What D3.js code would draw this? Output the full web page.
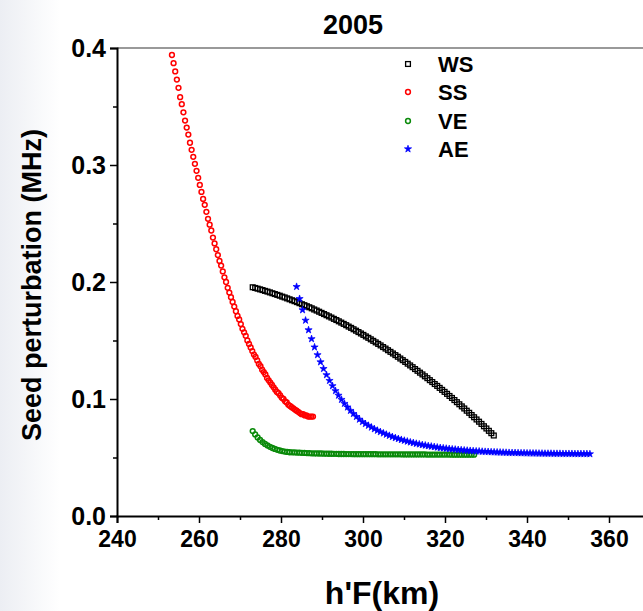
<!DOCTYPE html>
<html><head><meta charset="utf-8">
<script src="https://cdn.jsdelivr.net/npm/d3@7"></script>
<style>
html,body{margin:0;padding:0;background:#fff;}
svg{display:block;}
text{font-family:"Liberation Sans",Arial,Helvetica,sans-serif;font-weight:bold;fill:#000;}
</style></head>
<body>
<svg id="chart" width="643" height="611"></svg>
<script>
const title = "2005";
const xLabel = "h'F(km)";
const yLabel = "Seed perturbation (MHz)";
const seriesNames = ["WS", "SS", "VE", "AE"];
const seriesColors = ["#000000", "#ff0000", "#0a8a0a", "#0000ff"];
const xTicks = [240, 260, 280, 300, 320, 340, 360];
const yTicks = [0.0, 0.1, 0.2, 0.3, 0.4];

const wsX = [273.1,273.7,274.3,274.9,275.5,276.1,276.7,277.3,277.9,278.5,
279.1,279.7,280.3,280.9,281.5,282.1,282.7,283.3,283.9,284.5,
285.1,285.7,286.3,286.9,287.5,288.1,288.7,289.3,289.9,290.5,
291.1,291.7,292.3,292.9,293.5,294.1,294.7,295.3,295.9,296.5,
297.1,297.7,298.3,298.9,299.5,300.1,300.7,301.3,301.9,302.5,
303.1,303.7,304.3,304.9,305.5,306.1,306.7,307.3,307.9,308.5,
309.1,309.7,310.3,310.9,311.5,312.1,312.7,313.3,313.9,314.5,
315.1,315.7,316.3,316.9,317.5,318.1,318.7,319.3,319.9,320.5,
321.1,321.7,322.3,322.9,323.5,324.1,324.7,325.3,325.9,326.5,
327.1,327.7,328.3,328.9,329.5,330.1,330.7,331.3,331.9];
const wsY = [0.1955,0.1949,0.1943,0.1937,0.1931,0.1924,0.1918,0.1911,0.1904,0.1897,
0.1890,0.1883,0.1875,0.1868,0.1860,0.1852,0.1844,0.1836,0.1828,0.1819,
0.1810,0.1802,0.1793,0.1784,0.1775,0.1765,0.1756,0.1746,0.1736,0.1726,
0.1716,0.1706,0.1696,0.1685,0.1675,0.1664,0.1653,0.1642,0.1631,0.1619,
0.1608,0.1596,0.1584,0.1572,0.1560,0.1548,0.1535,0.1523,0.1510,0.1497,
0.1484,0.1471,0.1458,0.1444,0.1431,0.1417,0.1403,0.1389,0.1375,0.1361,
0.1346,0.1332,0.1317,0.1302,0.1287,0.1272,0.1256,0.1241,0.1225,0.1210,
0.1194,0.1178,0.1161,0.1145,0.1128,0.1112,0.1095,0.1078,0.1061,0.1044,
0.1026,0.1009,0.0991,0.0973,0.0955,0.0937,0.0919,0.0900,0.0882,0.0863,
0.0844,0.0825,0.0806,0.0787,0.0767,0.0748,0.0728,0.0708,0.0688];

const ssX = [253.4,253.8,254.2,254.6,255.0,255.4,255.8,256.2,256.6,257.0,
257.4,257.8,258.2,258.6,259.0,259.4,259.8,260.2,260.6,261.0,
261.4,261.8,262.2,262.6,263.0,263.4,263.8,264.2,264.6,265.0,
265.4,265.8,266.2,266.6,267.0,267.4,267.8,268.2,268.6,269.0,
269.4,269.8,270.2,270.6,271.0,271.4,271.8,272.2,272.6,273.0,
273.4,273.8,274.2,274.6,275.0,275.4,275.8,276.2,276.6,277.0,
277.4,277.8,278.2,278.6,279.0,279.4,279.8,280.2,280.6,281.0,
281.4,281.8,282.2,282.6,283.0,283.4,283.8,284.2,284.6,285.0,
285.4,285.8,286.2,286.6,287.0,287.4,287.8];
const ssY = [0.394,0.387,0.380,0.373,0.366,0.358,0.352,0.345,0.338,0.332,
0.326,0.319,0.313,0.307,0.301,0.295,0.289,0.283,0.277,0.271,
0.266,0.260,0.254,0.249,0.244,0.238,0.233,0.228,0.223,0.218,
0.214,0.209,0.204,0.200,0.195,0.191,0.187,0.183,0.179,0.175,
0.171,0.168,0.164,0.160,0.157,0.154,0.150,0.147,0.144,0.141,
0.138,0.136,0.133,0.130,0.128,0.125,0.123,0.121,0.118,0.116,
0.114,0.112,0.110,0.108,0.106,0.105,0.103,0.101,0.100,0.098,
0.097,0.095,0.094,0.093,0.092,0.091,0.090,0.089,0.088,0.087,
0.087,0.086,0.086,0.085,0.085,0.085,0.085];

const veX = [273.1,273.7,274.3,274.9,275.5,276.1,276.7,277.3,277.9,278.5,
279.1,279.7,280.3,280.9,281.5,282.1,282.7,283.3,283.9,284.5,
285.1,285.7,286.3,286.9,287.5,288.1,288.7,289.3,289.9,290.5,
291.1,291.7,292.3,292.9,293.5,294.1,294.7,295.3,295.9,296.5,
297.1,297.7,298.3,298.9,299.5,300.1,300.7,301.3,301.9,302.5,
303.1,303.7,304.3,304.9,305.5,306.1,306.7,307.3,307.9,308.5,
309.1,309.7,310.3,310.9,311.5,312.1,312.7,313.3,313.9,314.5,
315.1,315.7,316.3,316.9,317.5,318.1,318.7,319.3,319.9,320.5,
321.1,321.7,322.3,322.9,323.5,324.1,324.7,325.3,325.9,326.5,327.1];
const veY = [0.0726,0.0697,0.0672,0.0650,0.0632,0.0616,0.0603,0.0591,0.0581,0.0573,
0.0566,0.0560,0.0555,0.0551,0.0548,0.0545,0.0544,0.0543,0.0542,0.0541,
0.0540,0.0539,0.0538,0.0537,0.0536,0.0535,0.0535,0.0534,0.0534,0.0533,
0.0533,0.0532,0.0532,0.0531,0.0531,0.0530,0.0530,0.0530,0.0529,0.0529,
0.0529,0.0528,0.0528,0.0528,0.0528,0.0528,0.0528,0.0528,0.0528,0.0528,
0.0528,0.0527,0.0527,0.0527,0.0527,0.0527,0.0527,0.0527,0.0527,0.0527,
0.0527,0.0526,0.0526,0.0526,0.0526,0.0526,0.0526,0.0526,0.0526,0.0526,
0.0526,0.0525,0.0525,0.0525,0.0525,0.0525,0.0525,0.0525,0.0525,0.0525,
0.0525,0.0524,0.0524,0.0524,0.0524,0.0524,0.0524,0.0524,0.0524,0.0524,0.0524];

const aeX = [283.80,284.53,285.26,285.99,286.72,287.45,288.18,288.91,289.64,290.37,
291.10,291.83,292.56,293.29,294.02,294.75,295.48,296.21,296.94,297.67,
298.40,299.13,299.86,300.59,301.32,302.05,302.78,303.51,304.24,304.97,
305.70,306.43,307.16,307.89,308.62,309.35,310.08,310.81,311.54,312.27,
313.00,313.73,314.46,315.19,315.92,316.65,317.38,318.11,318.84,319.57,
320.30,321.03,321.76,322.49,323.22,323.95,324.68,325.41,326.14,326.87,
327.60,328.33,329.06,329.79,330.52,331.25,331.98,332.71,333.44,334.17,
334.90,335.63,336.36,337.09,337.82,338.55,339.28,340.01,340.74,341.47,
342.20,342.93,343.66,344.39,345.12,345.85,346.58,347.31,348.04,348.77,
349.50,350.23,350.96,351.69,352.42,353.15,353.88,354.61,355.34];
const aeY = [0.1960,0.1857,0.1761,0.1672,0.1590,0.1514,0.1443,0.1377,0.1316,0.1259,
0.1206,0.1157,0.1112,0.1070,0.1031,0.0995,0.0961,0.0930,0.0901,0.0874,
0.0849,0.0826,0.0805,0.0788,0.0773,0.0758,0.0744,0.0731,0.0719,0.0708,
0.0697,0.0687,0.0677,0.0668,0.0660,0.0652,0.0645,0.0638,0.0631,0.0625,
0.0619,0.0614,0.0608,0.0604,0.0599,0.0595,0.0591,0.0587,0.0583,0.0580,
0.0577,0.0574,0.0571,0.0569,0.0566,0.0564,0.0562,0.0560,0.0558,0.0556,
0.0554,0.0553,0.0551,0.0550,0.0549,0.0547,0.0546,0.0545,0.0544,0.0543,
0.0542,0.0541,0.0540,0.0540,0.0539,0.0538,0.0538,0.0537,0.0537,0.0536,
0.0536,0.0535,0.0535,0.0534,0.0534,0.0534,0.0533,0.0533,0.0533,0.0532,
0.0532,0.0532,0.0532,0.0531,0.0531,0.0531,0.0531,0.0531,0.0530];

const svg = d3.select("#chart");
const W = 643, H = 611;

// faint left strip like the reference scan
const grad = svg.append("defs").append("linearGradient").attr("id","lg").attr("x1","0").attr("x2","1");
grad.append("stop").attr("offset","0").attr("stop-color","#eceef3");
grad.append("stop").attr("offset","1").attr("stop-color","#ffffff");
svg.append("rect").attr("x",0).attr("y",0).attr("width",60).attr("height",H).attr("fill","url(#lg)");

const x = d3.scaleLinear().domain([240, 370]).range([117, 650]);
const y = d3.scaleLinear().domain([0, 0.4]).range([516, 48]);

// top frame line
svg.append("line").attr("x1",x(240)).attr("x2",W).attr("y1",y(0.4)).attr("y2",y(0.4))
  .attr("stroke","#777").attr("stroke-width",1.5);

const font = "'Liberation Sans',Arial,sans-serif";

// x axis
const xMin = svg.append("g").attr("transform",`translate(0,${y(0)})`)
  .call(d3.axisBottom(x).tickValues(d3.range(250, 371, 20)).tickSize(4).tickFormat(""));
xMin.select(".domain").remove();
xMin.selectAll(".tick line").attr("stroke-width",1.5);
const xMaj = svg.append("g").attr("transform",`translate(0,${y(0)})`)
  .call(d3.axisBottom(x).tickValues(xTicks).tickSize(7).tickPadding(8).tickFormat(d3.format("d")));
xMaj.select(".domain").attr("stroke-width",2);
xMaj.selectAll(".tick line").attr("stroke-width",1.5);
xMaj.selectAll(".tick text").attr("font-size",23).attr("font-family",font).attr("font-weight","bold").attr("fill","#000");

// y axis
const yMin = svg.append("g").attr("transform",`translate(${x(240)},0)`)
  .call(d3.axisLeft(y).tickValues([0.05,0.15,0.25,0.35]).tickSize(4).tickFormat(""));
yMin.select(".domain").remove();
yMin.selectAll(".tick line").attr("stroke-width",1.5);
const yMaj = svg.append("g").attr("transform",`translate(${x(240)},0)`)
  .call(d3.axisLeft(y).tickValues(yTicks).tickSize(7).tickPadding(4).tickFormat(d3.format(".1f")));
yMaj.select(".domain").attr("stroke-width",2);
yMaj.selectAll(".tick line").attr("stroke-width",1.5);
yMaj.selectAll(".tick text").attr("font-size",25).attr("font-family",font).attr("font-weight","bold").attr("fill","#000");

// titles
svg.append("text").attr("x",353).attr("y",34).attr("text-anchor","middle").attr("font-size",27).text(title);
svg.append("text").attr("x",382).attr("y",604).attr("text-anchor","middle").attr("font-size",32).text(xLabel);
svg.append("text").attr("transform","translate(41,285) rotate(-90)").attr("text-anchor","middle").attr("font-size",27).text(yLabel);

// markers
const sq = 4.8;
const star = d3.symbol().type(d3.symbolStar).size(16);
function drawSeries(xs, ys, i) {
  const data = d3.zip(xs, ys);
  const g = svg.append("g");
  const c = seriesColors[i];
  if (i === 0) {
    g.selectAll("rect").data(data).join("rect")
      .attr("x", d => x(d[0]) - sq/2).attr("y", d => y(d[1]) - sq/2)
      .attr("width", sq).attr("height", sq)
      .attr("fill", "none").attr("stroke", c).attr("stroke-width", 1.3);
  } else if (i === 3) {
    g.selectAll("path").data(data).join("path")
      .attr("d", star).attr("transform", d => `translate(${x(d[0])},${y(d[1])})`)
      .attr("fill", c).attr("stroke", c).attr("stroke-width", 0.7);
  } else {
    g.selectAll("circle").data(data).join("circle")
      .attr("cx", d => x(d[0])).attr("cy", d => y(d[1])).attr("r", 2.4)
      .attr("fill", "none").attr("stroke", c).attr("stroke-width", 1.5);
  }
}
drawSeries(wsX, wsY, 0);
drawSeries(ssX, ssY, 1);
drawSeries(veX, veY, 2);
drawSeries(aeX, aeY, 3);

// legend
const legY = [64, 92, 121, 149];
seriesNames.forEach((name, i) => {
  const g = svg.append("g").attr("transform", `translate(408,${legY[i]})`);
  const c = seriesColors[i];
  if (i === 0) g.append("rect").attr("x",-sq/2).attr("y",-sq/2).attr("width",sq).attr("height",sq).attr("fill","none").attr("stroke",c).attr("stroke-width",1.3);
  else if (i === 3) g.append("path").attr("d", star).attr("fill",c).attr("stroke",c).attr("stroke-width",0.7);
  else g.append("circle").attr("r",2.4).attr("fill","none").attr("stroke",c).attr("stroke-width",1.5);
  g.append("text").attr("x",30).attr("y",8).attr("font-size",22).text(name);
});
</script>
</body></html>
